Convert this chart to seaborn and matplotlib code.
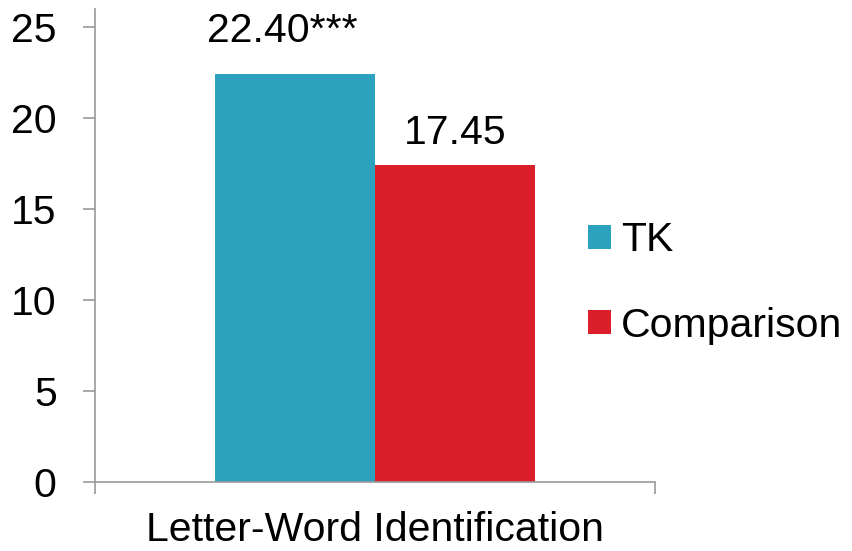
import pandas as pd
import matplotlib
matplotlib.use('Agg')
import matplotlib.pyplot as plt
import seaborn as sns
from matplotlib.patches import Patch

# Chart data
category = ['Letter-Word Identification']
groups = ['TK', 'Comparison']
scores = [22.40, 17.45]
value_labels = ['22.40***', '17.45']
colors = ['#2CA2BF', '#DA1F2A']

df = pd.DataFrame({'measure': category * len(groups), 'group': groups, 'score': scores})

sns.set_style('white')
plt.rcParams['font.family'] = ['Liberation Sans', 'DejaVu Sans']
plt.rcParams['text.color'] = 'black'
plt.rcParams['xtick.labelcolor'] = 'black'
plt.rcParams['ytick.labelcolor'] = 'black'
fs = 29.5

fig = plt.figure(figsize=(8.52, 5.51), dpi=100)
ax = fig.add_axes([95 / 852, 1 - 482 / 551, 560 / 852, 473 / 551])

sns.barplot(data=df, x='measure', y='score', hue='group', palette=colors,
            width=0.571, saturation=1, linewidth=0, ax=ax, legend=False)

# Value labels above the bars
offsets = [(-9, 23.5), (0, 15)]
for bar, lab, off in zip(ax.patches, value_labels, offsets):
    ax.annotate(lab, (bar.get_x() + bar.get_width() / 2, bar.get_height()),
                xytext=off, textcoords='offset points', ha='center', va='baseline',
                fontsize=fs, color='black')

ax.set_xlim(-0.5, 0.5)
ax.set_ylim(0, 26)
ax.set_yticks([0, 5, 10, 15, 20, 25])
ax.set_xlabel('')
ax.set_ylabel('')

for side in ['top', 'right']:
    ax.spines[side].set_visible(False)
for side in ['left', 'bottom']:
    ax.spines[side].set_color('#999999')
    ax.spines[side].set_linewidth(1.2)

ax.tick_params(axis='y', direction='out', length=8.6, width=1.2, color='#999999',
               labelsize=fs, pad=19, left=True)
ax.tick_params(axis='x', which='major', length=0, labelsize=fs, pad=21)
ax.set_xticks([-0.5, 0.5], minor=True)
ax.tick_params(axis='x', which='minor', direction='out', length=8.6, width=1.2,
               color='#999999', bottom=True)

handles = [Patch(facecolor=c, label=g, linewidth=0) for c, g in zip(colors, groups)]
ax.legend(handles=handles, loc='center left', bbox_to_anchor=(572 / 852, 1 - 283 / 551),
          bbox_transform=fig.transFigure, frameon=False, fontsize=fs,
          handlelength=0.55, handleheight=0.55, handletextpad=0.25,
          labelspacing=1.15, borderaxespad=0)

fig.savefig('out.png', dpi=100)
